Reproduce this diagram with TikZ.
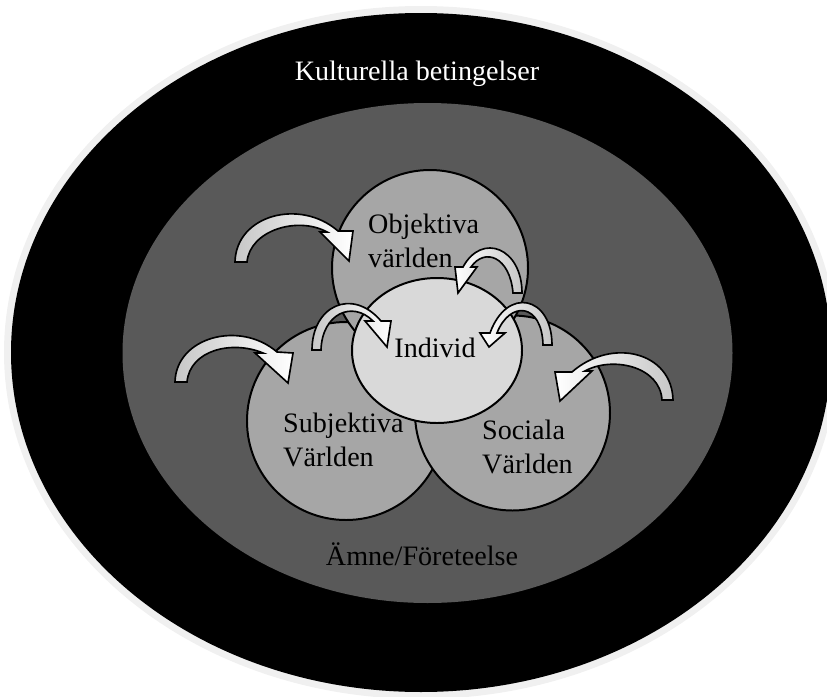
\documentclass[tikz,border=0pt]{standalone}
\usepackage{fontspec}
\setmainfont{Liberation Serif}
\usepackage{xcolor}
\usetikzlibrary{shapes.geometric}

\definecolor{rimgray}{gray}{0.94}
\definecolor{fieldgray}{gray}{0.35}
\definecolor{worldgray}{gray}{0.65}
\definecolor{selfgray}{gray}{0.85}
\definecolor{tailgray}{gray}{0.78}

\begin{document}
\begin{tikzpicture}[
  x=0.03cm, y=-0.03cm,
  world/.style={ellipse, draw=black, line width=1.7pt, fill=worldgray,
                inner sep=0pt},
  lbl/.style={font=\fontsize{24}{29}\selectfont, inner sep=0pt},
  barrow/.style={draw=black, line width=1.4pt},
  tailL/.style={barrow, left color=tailgray, right color=white},
  tailR/.style={barrow, left color=white, right color=tailgray},
]
\useasboundingbox (0,0) rectangle (827,697);

% ================= cultural frame and the field =================
\fill[rimgray] (421,352.5) ellipse [x radius=417, y radius=346.5];
\fill[black]   (421,352.5) ellipse [x radius=410, y radius=339.5];
\fill[fieldgray] (427.5,353) ellipse [x radius=305, y radius=250];

\node[lbl, text=white, anchor=base] (kult) at (417,80) {Kulturella betingelser};
\node[lbl, anchor=base] (amne) at (422,565) {Ämne/Företeelse};

% ================= the three worlds and the individual =================
\node[world, minimum width=5.94cm, minimum height=5.94cm] (subj) at (346,421) {};
\node[world, minimum width=5.85cm, minimum height=5.85cm] (soc)  at (512.5,413) {};
\node[world, minimum width=5.88cm, minimum height=5.88cm] (obj)  at (430,268) {};
\node[world, fill=selfgray, minimum width=5.1cm, minimum height=4.35cm]
  (ind) at (437,350.5) {};

\node[lbl, anchor=base west] (objA) at (368,233) {Objektiva};
\node[lbl, anchor=base west] (objB) at (368,267) {världen};
\node[lbl, anchor=base west] (subA) at (283,432) {Subjektiva};
\node[lbl, anchor=base west] (subB) at (283,466) {Världen};
\node[lbl, anchor=base west] (socA) at (482,439) {Sociala};
\node[lbl, anchor=base west] (socB) at (482,473) {Världen};
\node[lbl, anchor=base] (indA) at (435,357) {Individ};

% ================= curved block arrows =================
% from the field into the worlds
\filldraw[tailL] (235,262) .. controls (236,215) and (300,198) .. (338,231)
  -- (353,231) -- (349,261) -- (320,232) -- (327,232)
  .. controls (298,216) and (250,230) .. (247,262) -- cycle;
\filldraw[tailL] (175,382) .. controls (176,337) and (240,320) .. (277,352)
  -- (293,353) -- (288,383) -- (255,353) -- (263,353)
  .. controls (232,340) and (190,350) .. (187,382) -- cycle;
\filldraw[tailR] (673,400) .. controls (672,352) and (612,337) .. (572,372)
  -- (555,372) -- (560,401) -- (592,371) -- (585,371)
  .. controls (612,356) and (660,366) .. (662,400) -- cycle;

% from the worlds into the individual
\filldraw[tailR] (522,293) .. controls (522,248) and (482,232) .. (463,267)
  -- (455,267) -- (458,293) -- (477,267) -- (471,267)
  .. controls (485,247) and (510,257) .. (513,293) -- cycle;
\filldraw[tailL] (312,350) .. controls (312,306) and (352,287) .. (381,321)
  -- (391,321) -- (387,347) -- (365,321) -- (373,321)
  .. controls (352,300) and (322,314) .. (321,350) -- cycle;
\filldraw[tailR] (552,345) .. controls (552,296) and (507,286) .. (490,333)
  -- (480,333) -- (489,347) -- (505,333) -- (497,333)
  .. controls (510,300) and (542,303) .. (543,345) -- cycle;

\end{tikzpicture}
\end{document}
